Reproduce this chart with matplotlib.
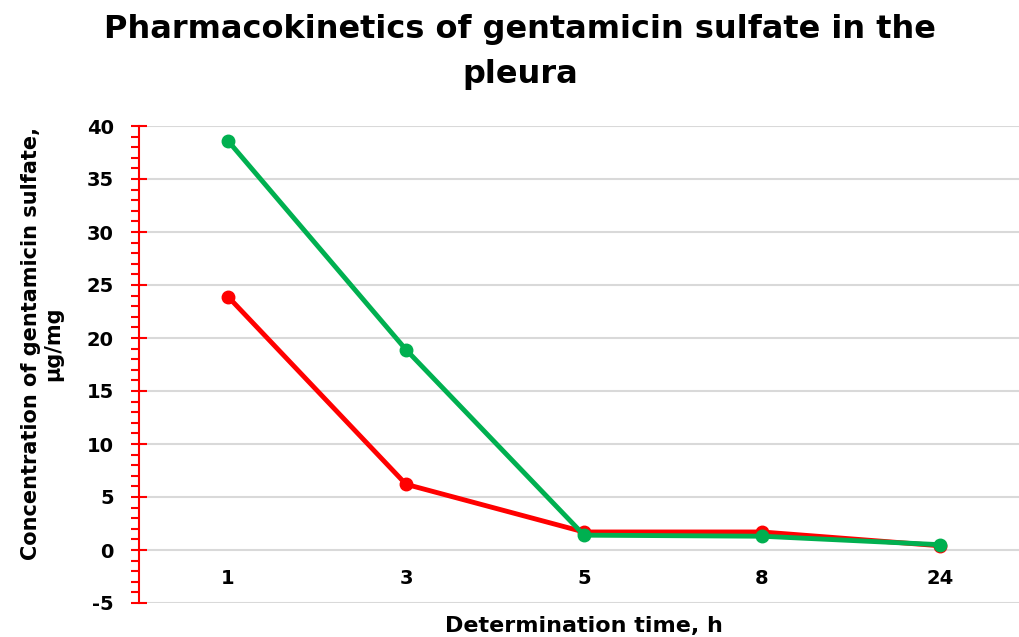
import matplotlib
matplotlib.use("Agg")
import matplotlib.pyplot as plt
from matplotlib.ticker import MultipleLocator

plt.rcParams["axes.unicode_minus"] = False

categories = ["1", "3", "5", "8", "24"]
series_red = [23.9, 6.2, 1.7, 1.7, 0.4]
series_green = [38.6, 18.9, 1.4, 1.3, 0.5]

fig = plt.figure(figsize=(10.2, 6.37), dpi=100)
ax = fig.add_axes([139/1020, 1-603/637, 1-139/1020, (603-126)/637])

x = list(range(len(categories)))
ax.plot(x, series_red, color="#FF0000", lw=3.5, marker="o", ms=9, zorder=3, solid_capstyle="round")
ax.plot(x, series_green, color="#00B050", lw=3.5, marker="o", ms=9, zorder=4, solid_capstyle="round")

ax.set_xlim(-0.5, (1020-228)/178)
ax.set_ylim(-5, 40)
ax.yaxis.set_major_locator(MultipleLocator(5))
ax.yaxis.set_minor_locator(MultipleLocator(1))
ax.grid(axis="y", color="#D9D9D9", lw=1.5, zorder=0)
ax.set_axisbelow(True)

for s in ["top", "right"]:
    ax.spines[s].set_visible(False)
ax.spines["bottom"].set_position(("data", 0))
ax.spines["bottom"].set_visible(False)
ax.spines["left"].set_color("#FF0000")
ax.spines["left"].set_linewidth(1.5)

ax.set_xticks(x)
ax.set_xticklabels(categories, fontsize=14, fontweight="bold", family="DejaVu Sans")
ax.tick_params(axis="x", length=0, pad=14)
ax.tick_params(axis="y", which="major", direction="inout", length=12, width=1.5, color="#FF0000",
               labelsize=14, pad=12)
ax.tick_params(axis="y", which="minor", direction="out", length=6, width=1.5, color="#FF0000")
for lab in ax.get_yticklabels():
    lab.set_fontweight("bold")
    lab.set_family("DejaVu Sans")

fig.text(0.51, 1-14/637, "Pharmacokinetics of gentamicin sulfate in the\npleura", ha="center", va="top",
         fontsize=23, fontweight="heavy", family="DejaVu Sans", linespacing=1.6)
fig.text(584/1020, 1-626/637, "Determination time, h", ha="center", va="center",
         fontsize=16, fontweight="bold", family="DejaVu Sans")
fig.text(42/1020, 1-344/637, "Concentration of gentamicin sulfate,\nμg/mg", ha="center", va="center",
         rotation=90, fontsize=15, fontweight="bold", family="DejaVu Sans", linespacing=1.15)

fig.savefig("out.png", dpi=100)
